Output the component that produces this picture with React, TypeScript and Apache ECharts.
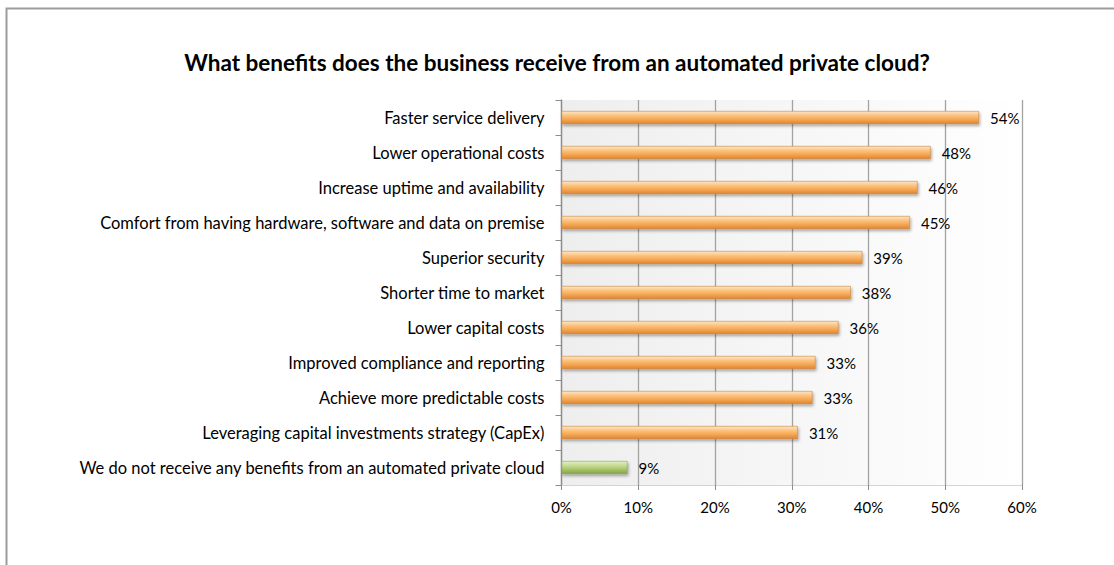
import React, { useEffect, useRef } from "react";
import * as echarts from "echarts";

const title = "What benefits does the business receive from an automated private cloud?";

const categories = [
  "Faster service delivery",
  "Lower operational costs",
  "Increase uptime and availability",
  "Comfort from having hardware, software and data on premise",
  "Superior security",
  "Shorter time to market",
  "Lower capital costs",
  "Improved compliance and reporting",
  "Achieve more predictable costs",
  "Leveraging capital investments strategy (CapEx)",
  "We do not receive any benefits from an automated private cloud",
];

const values = [54.4, 48.1, 46.4, 45.4, 39.2, 37.7, 36.1, 33.1, 32.7, 30.8, 8.6];

const greenIndex = 10;

const xTicks = { min: 0, max: 60, interval: 10 };

const FONT = "Lato";

const orangeStyle = {
  color: new echarts.graphic.LinearGradient(0, 0, 0, 1, [
    { offset: 0, color: "#fde6c6" },
    { offset: 0.35, color: "#fbc27e" },
    { offset: 0.7, color: "#f5a24c" },
    { offset: 1, color: "#d9863a" },
  ]),
  borderColor: "#c9873f",
  borderWidth: 0.6,
  shadowColor: "rgba(0,0,0,0.35)",
  shadowBlur: 3,
  shadowOffsetX: 1,
  shadowOffsetY: 2,
};

const greenStyle = {
  color: new echarts.graphic.LinearGradient(0, 0, 0, 1, [
    { offset: 0, color: "#e3eec6" },
    { offset: 0.35, color: "#c6db93" },
    { offset: 0.7, color: "#a3c063" },
    { offset: 1, color: "#86a24a" },
  ]),
  borderColor: "#8aa653",
  borderWidth: 0.6,
  shadowColor: "rgba(0,0,0,0.35)",
  shadowBlur: 3,
  shadowOffsetX: 1,
  shadowOffsetY: 2,
};

export default function App() {
  const ref = useRef<HTMLDivElement>(null);

  useEffect(() => {
    document.body.style.margin = "0";
    if (!ref.current) return;
    const chart = echarts.init(ref.current, null, { renderer: "svg" });
    chart.setOption({
      animation: false,
      backgroundColor: "#ffffff",
      title: {
        text: title,
        left: "center",
        top: 46,
        textStyle: { fontFamily: FONT, fontWeight: "bold", fontSize: 22.5, color: "#000" },
      },
      graphic: [
        {
          type: "rect",
          shape: { x: 6.5, y: 8.5, width: 1200, height: 700 },
          style: { fill: "none", stroke: "#9c9c9c", lineWidth: 2 },
          silent: true,
        },
      ],
      grid: {
        left: 561.5,
        right: 92,
        top: 100,
        bottom: 80,
        show: true,
        borderWidth: 0,
        backgroundColor: new echarts.graphic.LinearGradient(0, 0, 1, 0, [
          { offset: 0, color: "#eeeeee" },
          { offset: 0.6, color: "#f8f8f8" },
          { offset: 1, color: "#ffffff" },
        ]),
      },
      xAxis: {
        type: "value",
        min: xTicks.min,
        max: xTicks.max,
        interval: xTicks.interval,
        axisLine: { show: true, lineStyle: { color: "#d4d4d4", width: 1 } },
        axisTick: { show: true, length: 5, lineStyle: { color: "#8c8c8c" } },
        splitLine: { show: true, lineStyle: { color: "#a3a3a3", width: 1.3 } },
        axisLabel: {
          formatter: "{value}%",
          fontFamily: FONT,
          fontSize: 15,
          color: "#000",
          margin: 14,
        },
      },
      yAxis: {
        type: "category",
        inverse: true,
        data: categories,
        axisLine: { show: true, lineStyle: { color: "#8c8c8c", width: 1.3 } },
        axisTick: { show: true, length: 6, lineStyle: { color: "#8c8c8c" } },
        axisLabel: {
          fontFamily: FONT,
          fontSize: 16.5,
          color: "#000",
          margin: 17,
        },
      },
      series: [
        {
          type: "bar",
          barWidth: 13,
          data: values.map((v, i) => ({
            value: v,
            itemStyle: i === greenIndex ? greenStyle : orangeStyle,
          })),
          label: {
            show: true,
            position: "right",
            distance: 11,
            fontFamily: FONT,
            fontSize: 15,
            color: "#000",
            formatter: (p: any) => Math.round(p.value) + "%",
          },
        },
      ],
    });
    return () => chart.dispose();
  }, []);

  return <div ref={ref} style={{ width: 1114, height: 565 }} />;
}
